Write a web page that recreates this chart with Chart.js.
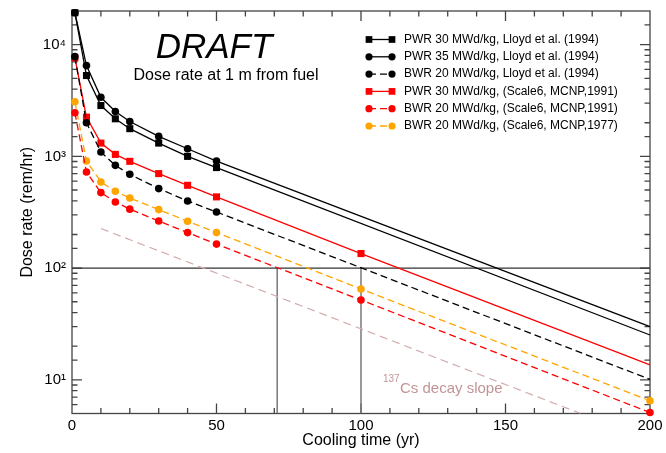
<!DOCTYPE html>
<html>
<head>
<meta charset="utf-8">
<script src="https://cdn.jsdelivr.net/npm/chart.js@4.4.0/dist/chart.umd.min.js"></script>
<style>
body { margin: 0; background: #fff; }
#err { position: absolute; left: 80px; top: 300px; color: blue; font: 12px monospace; }
</style>
</head>
<body>
<canvas id="chart" width="666" height="453"></canvas>
<div id="err"></div>
<script>
// cooling time (yr) and dose rate (rem/hr)
var yearsLloyd = [1, 5, 10, 15, 20, 30, 40, 50, 200];
var pwr30Lloyd = [19300, 5290, 2850, 2170, 1770, 1315, 1000, 794, 25.2];
var pwr35Lloyd = [19300, 6490, 3380, 2520, 2050, 1510, 1170, 908, 30];
var bwr20Lloyd = [7810, 2000, 1093, 831, 691, 515, 399, 318, 10.1];

var yearsScale = [1, 5, 10, 15, 20, 30, 40, 50, 100, 200];
var pwr30Scale91 = [7610, 2245, 1315, 1042, 903, 701, 551, 434, 135, 13.6];
var bwr20Scale91 = [2455, 724, 474, 391, 337, 264, 208, 164, 51.8, 5.1];
var bwr20Scale77 = [3080, 908, 590, 487, 424, 334, 263, 208, 65, 6.5];

// Cs-137 decay slope guide
var csYears = [10, 176];
var csDose = [226, 5];

// reference lines
var refLevel = 100;
var refYears = [71, 100];

var yTickValues = [10, 100, 1000, 10000];
var yTickLabels = ['10\u00b9', '10\u00b2', '10\u00b3', '10\u2074'];

var labels = [
	'PWR 30 MWd/kg, Lloyd et al. (1994)',
	'PWR 35 MWd/kg, Lloyd et al. (1994)',
	'BWR 20 MWd/kg, Lloyd et al. (1994)',
	'PWR 30 MWd/kg, (Scale6, MCNP,1991)',
	'BWR 20 MWd/kg, (Scale6, MCNP,1991)',
	'BWR 20 MWd/kg, (Scale6, MCNP,1977)'
];

var FONT = "'Liberation Sans', Arial, Helvetica, sans-serif";
Chart.defaults.font.family = FONT;
Chart.defaults.color = '#000';

function pairs(xs, ys) {
	return xs.map(function(x, i) { return {x: x, y: ys[i]}; });
}

// no marker on the extrapolated end point
function radii(n, r, hideLast) {
	var a = [];
	for (var i = 0; i < n; i++) a.push(r);
	if (hideLast) a[n - 1] = 0;
	return a;
}

function series(label, xs, ys, color, style, dashed, hideLast) {
	var r = style === 'rect' ? 5 : 3.8;
	return {
		label: label,
		data: pairs(xs, ys),
		borderColor: color,
		backgroundColor: color,
		borderWidth: 1.3,
		borderDash: dashed ? [7, 4] : [],
		pointStyle: style,
		pointRadius: radii(xs.length, r, hideLast),
		pointBorderWidth: 0,
		legendRadius: r,
		tension: 0,
		clip: false
	};
}

function refLine(xs, ys, color, width, dash) {
	return {
		data: pairs(xs, ys),
		borderColor: color,
		borderWidth: width,
		borderDash: dash || [],
		pointRadius: 0,
		tension: 0,
		isRef: true
	};
}

function drawFrame(chart) {
	var ctx = chart.ctx, a = chart.chartArea;
	var xs = chart.scales.x, ys = chart.scales.y;
	ctx.save();
	ctx.setLineDash([]);
	ctx.strokeStyle = '#444';
	ctx.lineWidth = 1.3;
	ctx.strokeRect(a.left, a.top, a.right - a.left, a.bottom - a.top);
	ctx.beginPath();
	for (var v = 10; v < 200; v += 10) {
		var px = xs.getPixelForValue(v);
		var len = v % 50 === 0 ? 10 : 5.5;
		ctx.moveTo(px, a.bottom); ctx.lineTo(px, a.bottom - len);
		ctx.moveTo(px, a.top); ctx.lineTo(px, a.top + len);
	}
	ys.ticks.forEach(function(t) {
		var py = ys.getPixelForValue(t.value);
		if (py <= a.top + 1 || py >= a.bottom - 1) return;
		var len = yTickValues.indexOf(t.value) >= 0 ? 10 : 5.5;
		ctx.moveTo(a.left, py); ctx.lineTo(a.left + len, py);
		ctx.moveTo(a.right, py); ctx.lineTo(a.right - len, py);
	});
	ctx.stroke();
	ctx.restore();
}

function drawNotes(chart) {
	var ctx = chart.ctx, a = chart.chartArea;
	ctx.save();
	// title
	ctx.fillStyle = '#000';
	ctx.textAlign = 'center';
	ctx.textBaseline = 'alphabetic';
	ctx.font = 'italic 35px ' + FONT;
	ctx.fillText('DRAFT', a.left + 142, a.top + 47);
	ctx.font = '16px ' + FONT;
	ctx.fillText('Dose rate at 1 m from fuel', a.left + 154, a.top + 68.5);

	// Cs label
	ctx.fillStyle = '#c29595';
	ctx.textAlign = 'left';
	ctx.font = '10px ' + FONT;
	ctx.fillText('137', a.left + 311, a.top + 371);
	ctx.font = '15px ' + FONT;
	ctx.fillText('Cs decay slope', a.left + 328, a.top + 381.5);

	// legend with a marker at each end of the line sample
	var x1 = a.left + 297, x2 = a.left + 320;
	chart.data.datasets.forEach(function(ds, i) {
		if (ds.isRef || !ds.label || i > 5) return;
		var y = a.top + 28.5 + i * 17.3;
		ctx.strokeStyle = ds.borderColor;
		ctx.lineWidth = ds.borderWidth;
		ctx.setLineDash(ds.borderDash);
		ctx.beginPath();
		ctx.moveTo(x1, y); ctx.lineTo(x2, y);
		ctx.stroke();
		ctx.setLineDash([]);
		ctx.fillStyle = ds.backgroundColor;
		var opts = {pointStyle: ds.pointStyle, radius: ds.legendRadius * 0.95, rotation: 0, borderWidth: 0};
		Chart.helpers.drawPoint(ctx, opts, x1, y);
		Chart.helpers.drawPoint(ctx, opts, x2, y);
		ctx.fillStyle = '#000';
		ctx.font = '12px ' + FONT;
		ctx.textBaseline = 'middle';
		ctx.fillText(ds.label, a.left + 332, y);
	});
	ctx.restore();
}

function guard(fn) {
	return function(chart) {
		try { fn(chart); } catch (e) { document.getElementById('err').textContent += e.message + ' '; }
	};
}

var frame = {
	id: 'frame',
	beforeDatasetsDraw: guard(drawFrame),
	afterDatasetsDraw: guard(drawNotes)
};

var ctx = document.getElementById('chart').getContext('2d');
var chart = new Chart(ctx, {
	type: 'line',
	data: {
		datasets: [
			series(labels[0], yearsLloyd, pwr30Lloyd, '#000', 'rect', false, true),
			series(labels[1], yearsLloyd, pwr35Lloyd, '#000', 'circle', false, true),
			series(labels[2], yearsLloyd, bwr20Lloyd, '#000', 'circle', true, true),
			series(labels[3], yearsScale, pwr30Scale91, '#ff0000', 'rect', false, true),
			series(labels[4], yearsScale, bwr20Scale91, '#ff0000', 'circle', true, false),
			series(labels[5], yearsScale, bwr20Scale77, '#ffa500', 'circle', true, false),
			refLine(csYears, csDose, '#d2acac', 1.2, [8, 5]),
			refLine([0, 200], [refLevel, refLevel], '#333', 1.3),
			refLine([refYears[0], refYears[0]], [5, refLevel], '#777', 1.5),
			refLine([refYears[1], refYears[1]], [5, refLevel], '#777', 1.5)
		]
	},
	options: {
		responsive: false,
		animation: false,
		layout: {padding: {left: 0, right: 16, top: 11, bottom: 0}},
		plugins: {
			legend: {display: false},
			tooltip: {enabled: false}
		},
		scales: {
			x: {
				type: 'linear',
				min: 0,
				max: 200,
				grid: {display: false, drawTicks: false},
				border: {display: false},
				ticks: {stepSize: 50, padding: 3, font: {size: 15}},
				title: {display: true, text: 'Cooling time (yr)', font: {size: 16}, padding: {top: 0, bottom: 3}},
				afterFit: function(s) { s.height = 39.5; s.paddingLeft = 0; s.paddingRight = 0; }
			},
			y: {
				type: 'logarithmic',
				min: 5,
				max: 20000,
				grid: {display: false, drawTicks: false},
				border: {display: false},
				ticks: {
					autoSkip: false,
					padding: 6,
					font: {size: 15},
					callback: function(value) {
						var i = yTickValues.indexOf(value);
						return i >= 0 ? yTickLabels[i] : '';
					}
				},
				title: {display: true, text: 'Dose rate (rem/hr)', font: {size: 16}, padding: {top: 18.4, bottom: 0}},
				afterFit: function(s) { s.width = 72; s.paddingTop = 0; s.paddingBottom = 0; }
			}
		}
	},
	plugins: [frame]
});
</script>
</body>
</html>
